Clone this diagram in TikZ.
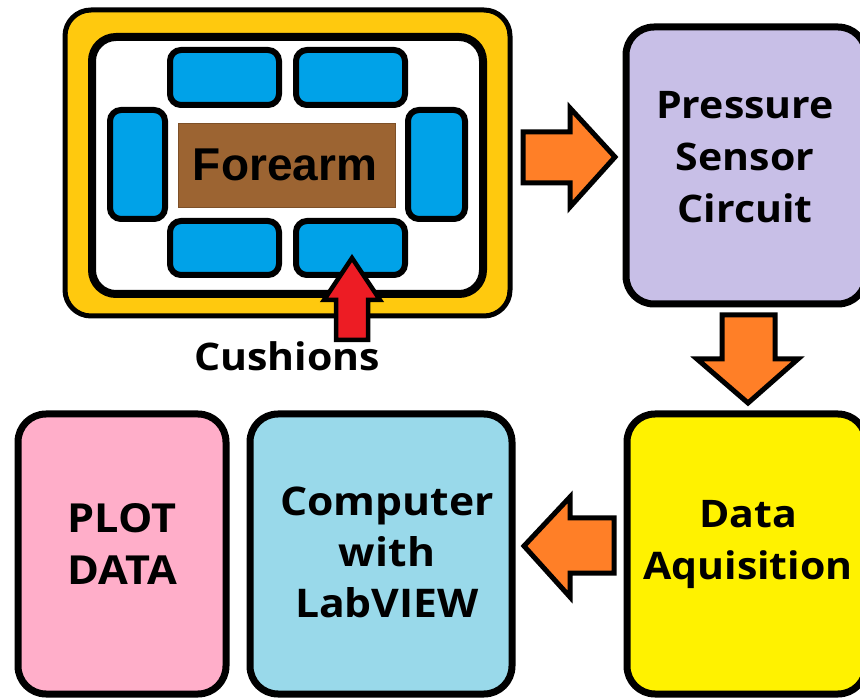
\documentclass[tikz,border=0pt]{standalone}
\usepackage{fontspec}
\setmainfont{Open Sans}
\newfontfamily\boxfont[FakeStretch=1.08]{Open Sans}
\newfontfamily\armfont{Liberation Sans}
\definecolor{frameyel}{HTML}{FFC90E}
\definecolor{cushblue}{HTML}{00A2E8}
\definecolor{armbrown}{HTML}{9C6432}
\definecolor{lav}{HTML}{C8BFE7}
\definecolor{daqyel}{HTML}{FFF200}
\definecolor{plotpink}{HTML}{FFAEC9}
\definecolor{pcblue}{HTML}{99D9EA}
\definecolor{arrorange}{HTML}{FF7F27}
\definecolor{arrred}{HTML}{ED1C24}
\tikzset{
  bigbox/.style={draw=black, line width=7pt, rounded corners=28pt, rectangle, inner sep=0pt},
  cushion/.style={draw=black, line width=6pt, fill=cushblue, rounded corners=11pt, rectangle, inner sep=0pt},
  boxtext/.style={align=center, font=\boxfont\bfseries\fontsize{38}{52}\selectfont, inner sep=0pt},
  blockarrow/.style={draw=black, line width=5pt, fill=arrorange, line join=miter},
}
\begin{document}
\begin{tikzpicture}[x=1pt,y=-1pt]
\useasboundingbox (0,0) rectangle (860,700);
\clip (0,0) rectangle (860,700);

% arm holder: yellow frame with white inner tray
\node[bigbox, line width=5pt, fill=frameyel, rounded corners=26pt,
      minimum width=445pt, minimum height=306pt] (frame) at (287.5,163) {};
\node[bigbox, line width=8pt, fill=white, rounded corners=24pt,
      minimum width=391pt, minimum height=257pt] (tray) at (287.5,165.5) {};

% cushions around the forearm
\node[cushion, minimum width=109pt, minimum height=55pt] (c1) at (224.5,77.5) {};
\node[cushion, minimum width=109pt, minimum height=55pt] (c2) at (350.5,77.5) {};
\node[cushion, minimum width=55pt, minimum height=109pt] (c3) at (137.5,164.5) {};
\node[cushion, minimum width=57pt, minimum height=109pt] (c4) at (436.5,164.5) {};
\node[cushion, minimum width=109pt, minimum height=54pt] (c5) at (224.5,248) {};
\node[cushion, minimum width=109pt, minimum height=54pt] (c6) at (350.5,248) {};

% forearm
\node[rectangle, fill=armbrown, draw=armbrown!80!black, line width=0.8pt,
      minimum width=217pt, minimum height=84pt, inner sep=0pt] (arm) at (286.5,165) {};
\node[font=\armfont\bfseries\fontsize{46}{50}\selectfont, inner sep=0pt] (armtxt) at (285,165) {Forearm};

% pointer to the cushions
\coordinate (ptip) at (352,258);
\draw[draw=black, line width=4.5pt, fill=arrred, line join=miter]
  ([xshift=-16pt,yshift=-82pt]ptip) -- ([xshift=-16pt,yshift=-42pt]ptip)
  -- ([xshift=-28pt,yshift=-42pt]ptip) -- (ptip)
  -- ([xshift=28pt,yshift=-42pt]ptip) -- ([xshift=16pt,yshift=-42pt]ptip)
  -- ([xshift=16pt,yshift=-82pt]ptip) -- cycle;
\node[font=\boxfont\bfseries\fontsize{38}{44}\selectfont, inner sep=0pt, anchor=base] (cush) at (287,371) {Cushions};

% processing chain
\node[bigbox, fill=lav, minimum width=240pt, minimum height=277pt] (press) at (746,165.5) {};
\node[boxtext] (presstxt) at (745,157) {Pressure\\Sensor\\Circuit};

\node[bigbox, fill=daqyel, minimum width=239pt, minimum height=280pt] (daq) at (746.5,554) {};
\node[boxtext] (daqtxt) at (748,545) {Data\\Aquisition};

\node[bigbox, fill=pcblue, minimum width=262pt, minimum height=280pt] (pc) at (381,554) {};
\node[boxtext, font=\boxfont\bfseries\fontsize{39.5}{51}\selectfont] (pctxt) at (387,552) {Computer\\with\\LabVIEW};

\node[bigbox, fill=plotpink, minimum width=208pt, minimum height=280pt] (plot) at (122,554) {};
\node[boxtext, font=\boxfont\bfseries\fontsize{40}{52}\selectfont] (plottxt) at (122,544) {PLOT\\DATA};

% block arrows between the stages
\draw[blockarrow] (523,132) -- (570,132) -- (570,108) -- (615,157)
  -- (570,207) -- (570,183) -- (523,183) -- cycle;
\draw[blockarrow] (722,315) -- (775,315) -- (775,359) -- (798,359)
  -- (748,403) -- (697,359) -- (722,359) -- cycle;
\draw[blockarrow] (614,518) -- (570,518) -- (570,497) -- (524,546)
  -- (570,597) -- (570,573) -- (614,573) -- cycle;
\end{tikzpicture}
\end{document}
